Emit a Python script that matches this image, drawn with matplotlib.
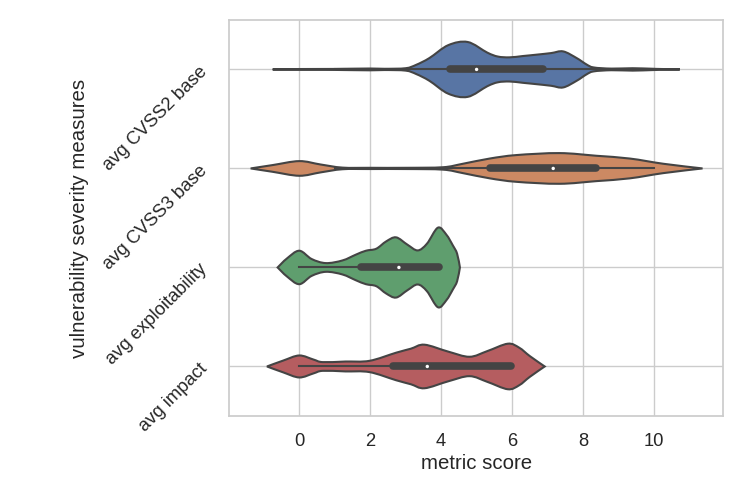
import matplotlib

matplotlib.use("Agg")

import matplotlib.pyplot as plt  # noqa: E402
import matplotlib.transforms as mtransforms  # noqa: E402
import numpy as np  # noqa: E402
from matplotlib.path import Path  # noqa: E402
from matplotlib.patches import PathPatch  # noqa: E402

plt.rcParams["font.family"] = ["Liberation Sans", "DejaVu Sans"]

# measures shown on the y axis, top to bottom
measures = ["avg CVSS2 base", "avg CVSS3 base", "avg exploitability", "avg impact"]
colors = ["#5875A4", "#CC8963", "#5F9E6E", "#B55D60"]

# violin outlines: score -> half width (in category units)
cvss2_pos = [-0.75, 0.0, 1.0, 2.0, 2.4, 3.0, 3.3, 3.67, 4.2, 4.75, 5.3, 5.6, 5.93, 6.3, 6.69,
             7.1, 7.44, 7.82, 8.1, 8.3, 8.8, 9.4, 10.0, 10.73]
cvss2_w = [0.0, 0.004, 0.005, 0.009, 0.006, 0.012, 0.047, 0.115, 0.245, 0.277, 0.17, 0.13,
           0.122, 0.135, 0.149, 0.165, 0.182, 0.115, 0.05, 0.02, 0.008, 0.012, 0.006, 0.0]

cvss3_pos = [-1.37, -0.75, 0.0, 0.6, 1.22, 2.0, 3.0, 4.05, 4.61, 5.37, 6.12, 7.34, 8.38,
             9.32, 10.27, 11.37]
cvss3_w = [0.0, 0.034, 0.074, 0.04, 0.008, 0.006, 0.006, 0.012, 0.047, 0.10, 0.135, 0.155,
           0.128, 0.10, 0.047, 0.0]

expl_pos = [-0.61, -0.35, 0.0, 0.35, 0.75, 1.22, 1.6, 1.88, 2.17, 2.45, 2.73, 3.05, 3.34,
            3.6, 3.91, 4.15, 4.33, 4.45, 4.53]
expl_w = [0.0, 0.09, 0.169, 0.085, 0.044, 0.071, 0.13, 0.169, 0.189, 0.263, 0.304, 0.23,
          0.172, 0.24, 0.402, 0.33, 0.223, 0.14, 0.0]

impact_pos = [-0.91, -0.45, 0.0, 0.4, 0.66, 1.3, 1.98, 2.73, 3.15, 3.53, 4.2, 4.8, 5.3,
              5.88, 6.2, 6.5, 6.92]
impact_w = [0.0, 0.06, 0.111, 0.07, 0.044, 0.05, 0.057, 0.139, 0.18, 0.22, 0.15, 0.098,
            0.155, 0.23, 0.19, 0.105, 0.0]

profiles = [(cvss2_pos, cvss2_w), (cvss3_pos, cvss3_w), (expl_pos, expl_w),
            (impact_pos, impact_w)]

# inner box: whisker low, q1, median, q3, whisker high
whisk_lo = [1.0, 1.0, 0.0, 0.0]
q1 = [4.24, 5.37, 1.74, 2.64]
median = [5.0, 7.16, 2.81, 3.61]
q3 = [6.87, 8.38, 3.95, 5.98]
whisk_hi = [10.0, 10.0, 3.97, 6.0]

LINE = "#444444"
GRID = "#cccccc"
TEXT = "#262626"


def smooth_segments(pts):
    """Catmull-Rom through pts, returned as cubic bezier vertices (without the first point)."""
    verts = []
    n = len(pts)
    for i in range(n - 1):
        p0 = pts[max(i - 1, 0)]
        p1 = pts[i]
        p2 = pts[i + 1]
        p3 = pts[min(i + 2, n - 1)]
        c1 = p1 + (p2 - p0) / 6.0
        c2 = p2 - (p3 - p1) / 6.0
        verts += [c1, c2, p2]
    return verts


def violin_path(pos, w, center):
    pos = np.asarray(pos, float)
    w = np.asarray(w, float)
    upper = np.column_stack([pos, center - w])
    lower = np.column_stack([pos[::-1], center + w[::-1]])
    verts = [upper[0]] + smooth_segments(upper) + smooth_segments(lower)
    codes = [Path.MOVETO] + [Path.CURVE4] * (len(verts) - 1)
    verts.append(upper[0])
    codes.append(Path.CLOSEPOLY)
    return Path(np.array(verts), codes)


fig = plt.figure(figsize=(7.47, 4.98), dpi=100)
ax = fig.add_axes([0.3066, 0.1647, 0.6614, 0.7953])

for i, (pos, w) in enumerate(profiles):
    patch = PathPatch(violin_path(pos, w, i), facecolor=colors[i], edgecolor=LINE,
                      lw=1.5, zorder=2)
    ax.add_patch(patch)
    ax.plot([whisk_lo[i], whisk_hi[i]], [i, i], color=LINE, lw=1.5, zorder=3)
    ax.plot([q1[i], q3[i]], [i, i], color=LINE, lw=5.5, solid_capstyle="round", zorder=3)
    ax.scatter([median[i]], [i], s=6, color="white", zorder=4, edgecolors="none")

ax.set_xlim(-1.98, 11.95)
ax.set_ylim(3.5, -0.5)
ax.set_xticks([0, 2, 4, 6, 8, 10])
ax.set_yticks(range(len(measures)))
ax.set_yticklabels(measures, rotation=45, ha="right", rotation_mode="anchor")
ax.tick_params(axis="both", length=0, pad=12, labelsize=13.2, labelcolor=TEXT)

# nudge the rotated labels a bit further from the axis
shift = mtransforms.ScaledTranslation(-0.09, 0.02, fig.dpi_scale_trans)
for lab in ax.get_yticklabels():
    lab.set_transform(lab.get_transform() + shift)

ax.set_xlabel("metric score", fontsize=14.7, color=TEXT, labelpad=3)
ax.set_ylabel("vulnerability severity measures", fontsize=14.7, color=TEXT, labelpad=8)

ax.grid(True, color=GRID, lw=1, zorder=0)
ax.set_axisbelow(True)
for spine in ax.spines.values():
    spine.set_color(GRID)
    spine.set_linewidth(1.25)

fig.savefig("out.png", dpi=100)
